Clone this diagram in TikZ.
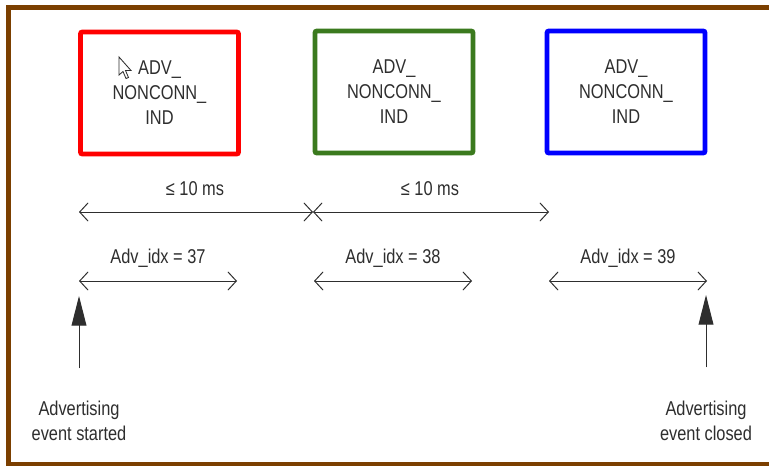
\documentclass[tikz,border=0pt]{standalone}
\usepackage{fontspec}
\setmainfont{Liberation Sans}[FakeStretch=0.82]
\usepackage{tikz}
\usetikzlibrary{arrows.meta,calc,positioning}
\definecolor{framebrown}{HTML}{7B3F00}
\definecolor{boxgreen}{HTML}{3B7A1E}
\definecolor{inkgray}{HTML}{2E2E2E}

\tikzset{
  advbox/.style={draw=#1, line width=3.5pt, rounded corners=1.5pt,
    minimum width=3.95cm, minimum height=3.05cm, inner sep=0pt,
    align=center, text=inkgray, font=\fontsize{14.2}{17.8}\selectfont},
  lbl/.style={inner sep=0pt, align=center, text=inkgray,
    font=\fontsize{14.2}{17.3}\selectfont},
  span/.style={line width=0.7pt, draw=inkgray,
    {Straight Barb[length=6pt,width=13pt]}-{Straight Barb[length=6pt,width=13pt]}},
  evt/.style={line width=0.7pt, draw=inkgray, fill=inkgray,
    -{Triangle[length=21pt,width=10.5pt]}}
}

\begin{document}
\begin{tikzpicture}[x=0.025cm,y=-0.025cm]
\useasboundingbox (0,0) rectangle (769,466);
\clip (0,0) rectangle (769,466);
\fill[white] (0,0) rectangle (769,466);
\draw[framebrown, line width=3.6pt] (8.5,7.5) rectangle (800,465);

% the three advertising PDUs
\node[advbox=red] (pdu37) at (159.5,93) {ADV\_\\NONCONN\_\\IND};
\node[advbox=boxgreen] (pdu38) at (394,92) {ADV\_\\NONCONN\_\\IND};
\node[advbox=blue] (pdu39) at (626,92) {ADV\_\\NONCONN\_\\IND};

% mouse pointer
\filldraw[fill=white, draw=inkgray, line width=0.6pt]
(119,57)--(119,75)--(123,71.5)--(126,78.5)--(128.5,77.5)--(125.5,70.5)--(131,70.5)--cycle;

% interval arrows
\coordinate (t0) at (79,212);
\coordinate (t1) at (313,212);
\coordinate (t2) at (549,212);
\draw[span] (t0)--(t1);
\draw[span] (t1)--(t2);
\node[lbl] (gap1) at (195,189) {≤ 10 ms};
\node[lbl] (gap2) at (430,189) {≤ 10 ms};

% channel index arrows
\foreach \nm/\xa/\xb/\lab in {a/79/237/37,b/314/472/38,c/549/707/39}
{
  \coordinate (\nm l) at (\xa,281);
  \coordinate (\nm r) at (\xb,281);
  \draw[span] (\nm l)--(\nm r);
  \node[lbl] (idx\nm) at ($(\nm l)!0.5!(\nm r)+(0,-23)$) {Adv\_idx = \lab};
}

% start and end of the event
\node[lbl] (started) at (79,421) {Advertising\\event started};
\node[lbl] (closed) at (706,421) {Advertising\\event closed};
\coordinate (startfoot) at (79,368);
\coordinate (starttip) at (79,296);
\coordinate (closefoot) at (706,367);
\coordinate (closetip) at (706,295);
\draw[evt] (startfoot)--(starttip);
\draw[evt] (closefoot)--(closetip);
\end{tikzpicture}
\end{document}
